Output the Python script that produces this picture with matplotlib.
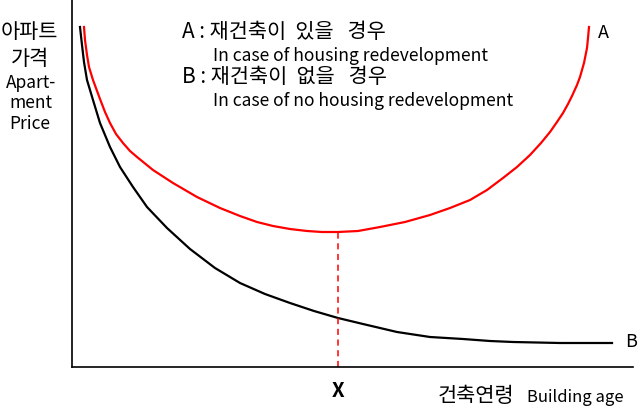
import matplotlib
matplotlib.use("Agg")
import matplotlib.pyplot as plt

plt.rcParams['font.family'] = ['Noto Sans CJK KR', 'DejaVu Sans']

# building age (arbitrary units) and apartment price (arbitrary units)
# A: with redevelopment (U-shape), B: without redevelopment (decay)
age_a = [12, 13, 15, 17, 21, 28, 33, 38, 44, 51, 58, 65, 81, 101, 125, 148, 168, 185, 201, 218, 235, 250, 266, 286,
         308, 333, 358, 378, 398, 415, 431, 445, 458, 469, 478, 485, 491, 496, 500, 505, 508, 512, 515, 516, 517]
price_a = [340, 327, 312, 300, 287, 268, 255, 244, 233, 224, 216, 210, 197, 184, 170, 159, 151, 145, 141, 138, 136, 135, 135, 136,
           140, 145, 152, 159, 167, 177, 189, 200, 212, 224, 235, 245, 254, 263, 271, 282, 290, 304, 319, 329, 340]

age_b = [8, 10, 12, 15, 21, 28, 38, 48, 61, 75, 95, 118, 143, 168, 193, 218, 242, 266, 291, 325, 358, 391, 418, 441, 488, 540]
price_b = [340, 322, 305, 287, 267, 244, 220, 200, 180, 160, 139, 118, 99, 84, 73, 64, 56, 49, 43, 35, 30, 28, 26, 25, 24, 24]

x_age = 266      # age where A is lowest
x_price = 135    # lowest price of A

W, H = 638, 407
fig = plt.figure(figsize=(W / 100, H / 100), dpi=100)
ax = fig.add_axes([71.5 / W, 40 / H, (633 - 71.5) / W, 367 / H])

ax.plot(age_a, price_a, color='#ff0000', lw=1.6, solid_joinstyle='round')
ax.plot(age_b, price_b, color='black', lw=1.6, solid_joinstyle='round')
ax.plot([x_age, x_age], [0, x_price], color='#ff0000', lw=1.1, ls=(0, (4, 3)))

ax.set_xlim(-0.5, 561)
ax.set_ylim(0, 367)
ax.set_xticks([])
ax.set_yticks([])
for s in ['top', 'right']:
    ax.spines[s].set_visible(False)
for s in ['left', 'bottom']:
    ax.spines[s].set_linewidth(1.2)


def txt(px, py, s, size, **kw):
    fig.text(px / W, 1 - py / H, s, fontsize=size, va='baseline', **kw)


# y-axis label
txt(29, 38.5, '아파트', 15, ha='center')
txt(30, 65, '가격', 15, ha='center')
txt(31, 88, 'Apart-', 12.5, ha='center')
txt(31, 108, 'ment', 12.5, ha='center')
txt(30, 129, 'Price', 12.5, ha='center')

# legend text
txt(182, 38, 'A : 재건축이  있을   경우', 15, ha='left')
txt(213, 61, 'In case of housing redevelopment', 12.6, ha='left')
txt(182, 83, 'B : 재건축이  없을   경우', 15, ha='left')
txt(213, 106, 'In case of no housing redevelopment', 12.6, ha='left')

# curve labels
txt(598, 38, 'A', 13, ha='left')
txt(625, 347, 'B', 13, ha='left')

# x-axis labels
txt(338.5, 397, 'X', 14.5, ha='center', fontweight='bold')
txt(438, 401.5, '건축연령', 15, ha='left')
txt(527, 402, 'Building age', 12, ha='left')

fig.savefig('out.png', dpi=100)
